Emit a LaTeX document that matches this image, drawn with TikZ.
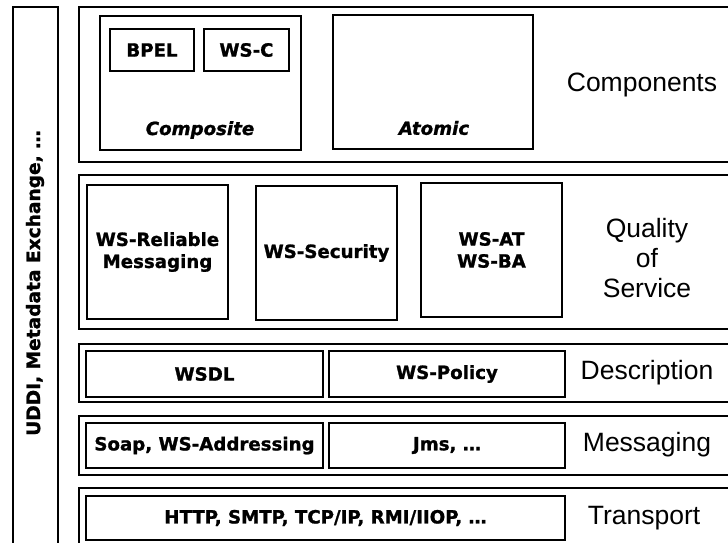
\documentclass[tikz,border=0pt]{standalone}
\usepackage{fontspec}
\setmainfont{Liberation Sans}
\newfontfamily\boxfont{DejaVu Sans}[BoldFeatures={FakeBold=1.2},BoldItalicFeatures={FakeBold=1.2}]
\begin{document}
\begin{tikzpicture}[x=1pt,y=-1pt,
  frame/.style={draw=black, line width=2.8pt, inner sep=0pt},
  layer/.style={frame, minimum width=656pt},
  box/.style={frame, line width=2.6pt, font=\boxfont\bfseries\fontsize{18.2}{22}\selectfont, align=center},
  tag/.style={font=\boxfont\bfseries\itshape\fontsize{18.2}{22}\selectfont},
  lbl/.style={font=\fontsize{26.5}{30}\selectfont, align=center}]
\useasboundingbox[fill=white] (0,0) rectangle (728,543);

% side column spanning all layers
\node[frame, minimum width=45pt, minimum height=543pt] (side) at (35.5,278.5) {};
\node[font=\boxfont\bfseries\fontsize{18.6}{22}\selectfont, rotate=90] (sidetxt) at (35,283) {UDDI, Metadata Exchange, \dots};

% layers
\node[layer, minimum height=155pt] (comp) at (407,84.5) {};
\node[layer, minimum height=154pt] (qos)  at (407,252) {};
\node[layer, minimum height=58pt]  (desc) at (407,373) {};
\node[layer, minimum height=59pt]  (msg)  at (407,445.5) {};
\node[layer, minimum height=62pt]  (trans) at (407,519) {};

% components
\node[box, minimum width=201pt, minimum height=134pt] (composite) at (200.5,83) {};
\node[box, minimum width=84pt, minimum height=42pt] (bpel) at (152,50) {BPEL};
\node[box, minimum width=85pt, minimum height=42pt] (wsc) at (246.5,50) {WS-C};
\node[tag] (comptag) at (200,130) {Composite};
\node[box, minimum width=200pt, minimum height=134pt] (atomic) at (433,82) {};
\node[tag] (atomtag) at (434,128) {Atomic};
\node[lbl] (complbl) at (642,85) {Components};

% quality of service
\node[box, minimum width=141pt, minimum height=134pt] (wsrm) at (157.5,252) {WS-Reliable\\Messaging};
\node[box, minimum width=141pt, minimum height=134pt] (wssec) at (326.5,253) {WS-Security};
\node[box, minimum width=141pt, minimum height=134pt] (wsat) at (491.5,250) {WS-AT\\WS-BA};
\node[lbl] (qoslbl) at (647,258) {Quality\\of\\Service};

% description
\node[box, minimum width=237pt, minimum height=46pt] (wsdl) at (204.5,374) {WSDL};
\node[box, minimum width=236pt, minimum height=46pt] (wspol) at (447,374) {WS-Policy};
\node[lbl] (desclbl) at (647,373) {Description};

% messaging
\node[box, minimum width=237pt, minimum height=45pt] (soap) at (204.5,445.5) {Soap, WS-Addressing};
\node[box, minimum width=236pt, minimum height=45pt] (jms) at (447,445.5) {Jms, \dots};
\node[lbl] (msglbl) at (647,445) {Messaging};

% transport
\node[box, minimum width=479pt, minimum height=44pt] (http) at (325.5,518) {HTTP, SMTP, TCP/IP, RMI/IIOP, \dots};
\node[lbl] (translbl) at (644,518) {Transport};
\end{tikzpicture}
\end{document}
